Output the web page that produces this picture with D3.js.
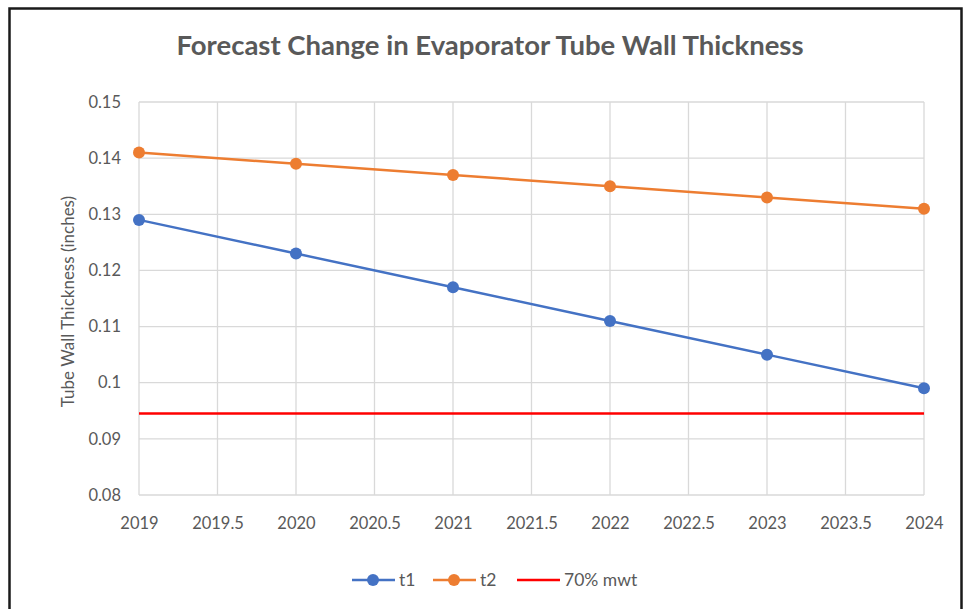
<!DOCTYPE html>
<html>
<head>
<meta charset="utf-8">
<script src="https://cdn.jsdelivr.net/npm/d3@7"></script>
<style>
  body { margin: 0; background: #fff; }
  svg text { font-family: Lato, "Open Sans", sans-serif; }
</style>
</head>
<body>
<svg id="chart" width="963" height="609"></svg>
<script>
const years = [2019, 2020, 2021, 2022, 2023, 2024];
const t1 = [0.129, 0.123, 0.117, 0.111, 0.105, 0.099];
const t2 = [0.141, 0.139, 0.137, 0.135, 0.133, 0.131];
const mwt = [0.0945, 0.0945];
const mwtYears = [2019, 2024];
const xTicks = [2019, 2019.5, 2020, 2020.5, 2021, 2021.5, 2022, 2022.5, 2023, 2023.5, 2024];
const yTicks = [0.08, 0.09, 0.1, 0.11, 0.12, 0.13, 0.14, 0.15];

const svg = d3.select('#chart');
const margin = { top: 102, left: 139, right: 39, bottom: 114 };
const width = 963, height = 609;

// outer frame
svg.append('path')
  .attr('d', `M9.5,${height + 5} V8.5 H961.5 V${height + 5}`)
  .attr('fill', 'none')
  .attr('stroke', '#1a1a1a')
  .attr('stroke-width', 2.5);

const x = d3.scaleLinear().domain([2019, 2024]).range([margin.left, width - margin.right]);
const y = d3.scaleLinear().domain([0.08, 0.15]).range([height - margin.bottom, margin.top]);

// gridlines
svg.append('g')
  .selectAll('line.h')
  .data(yTicks)
  .enter().append('line')
  .attr('x1', x(2019)).attr('x2', x(2024))
  .attr('y1', d => y(d)).attr('y2', d => y(d))
  .attr('stroke', '#d9d9d9').attr('stroke-width', 1.3);

svg.append('g')
  .selectAll('line.v')
  .data(xTicks)
  .enter().append('line')
  .attr('x1', d => x(d)).attr('x2', d => x(d))
  .attr('y1', y(0.08)).attr('y2', y(0.15))
  .attr('stroke', '#d9d9d9').attr('stroke-width', 1.3);

// tick labels
const fmtX = d => String(d);
const fmtY = d => (d === 0.1 ? '0.1' : d3.format('.2f')(d));

svg.append('g')
  .attr('transform', `translate(0,${y(0.08)})`)
  .call(d3.axisBottom(x).tickValues(xTicks).tickFormat(fmtX).tickSize(0).tickPadding(22))
  .call(g => g.select('.domain').remove())
  .selectAll('text')
  .attr('fill', '#595959').style('font-size', '16.5px');

svg.append('g')
  .attr('transform', `translate(${x(2019)},0)`)
  .call(d3.axisLeft(y).tickValues(yTicks).tickFormat(fmtY).tickSize(0).tickPadding(18))
  .call(g => g.select('.domain').remove())
  .selectAll('text')
  .attr('fill', '#595959').style('font-size', '16.5px');

// title
svg.append('text')
  .attr('x', 490).attr('y', 55)
  .attr('text-anchor', 'middle')
  .attr('fill', '#595959')
  .style('font-size', '27.5px').style('font-weight', 'bold')
  .text('Forecast Change in Evaporator Tube Wall Thickness');

// y label
svg.append('text')
  .attr('transform', `translate(74,${(y(0.08) + y(0.15)) / 2 + 3}) rotate(-90)`)
  .attr('text-anchor', 'middle')
  .attr('fill', '#595959')
  .style('font-size', '17px')
  .text('Tube Wall Thickness (inches)');

const line = d3.line().x(d => x(d[0])).y(d => y(d[1]));

// 70% mwt
svg.append('path')
  .datum(mwtYears.map((d, i) => [d, mwt[i]]))
  .attr('d', line)
  .attr('fill', 'none').attr('stroke', '#ff0000').attr('stroke-width', 2.5);

const series = [
  { name: 't1', values: t1, color: '#4472c4' },
  { name: 't2', values: t2, color: '#ed7d31' }
];

series.forEach(s => {
  const pts = years.map((d, i) => [d, s.values[i]]);
  svg.append('path')
    .datum(pts)
    .attr('d', line)
    .attr('fill', 'none').attr('stroke', s.color).attr('stroke-width', 2.5);
  svg.append('g')
    .selectAll('circle')
    .data(pts)
    .enter().append('circle')
    .attr('cx', d => x(d[0])).attr('cy', d => y(d[1]))
    .attr('r', 6).attr('fill', s.color);
});

// legend
const legend = [
  { name: 't1', color: '#4472c4', marker: true, x0: 352 },
  { name: 't2', color: '#ed7d31', marker: true, x0: 433 },
  { name: '70% mwt', color: '#ff0000', marker: false, x0: 517 }
];
const ly = 580;
legend.forEach(l => {
  const g = svg.append('g');
  g.append('line')
    .attr('x1', l.x0).attr('x2', l.x0 + 43)
    .attr('y1', ly).attr('y2', ly)
    .attr('stroke', l.color).attr('stroke-width', 2.5);
  if (l.marker) {
    g.append('circle').attr('cx', l.x0 + 21).attr('cy', ly).attr('r', 6).attr('fill', l.color);
  }
  g.append('text')
    .attr('x', l.x0 + 47).attr('y', ly + 6)
    .attr('fill', '#595959')
    .style('font-size', '17.5px')
    .text(l.name);
});
</script>
</body>
</html>
